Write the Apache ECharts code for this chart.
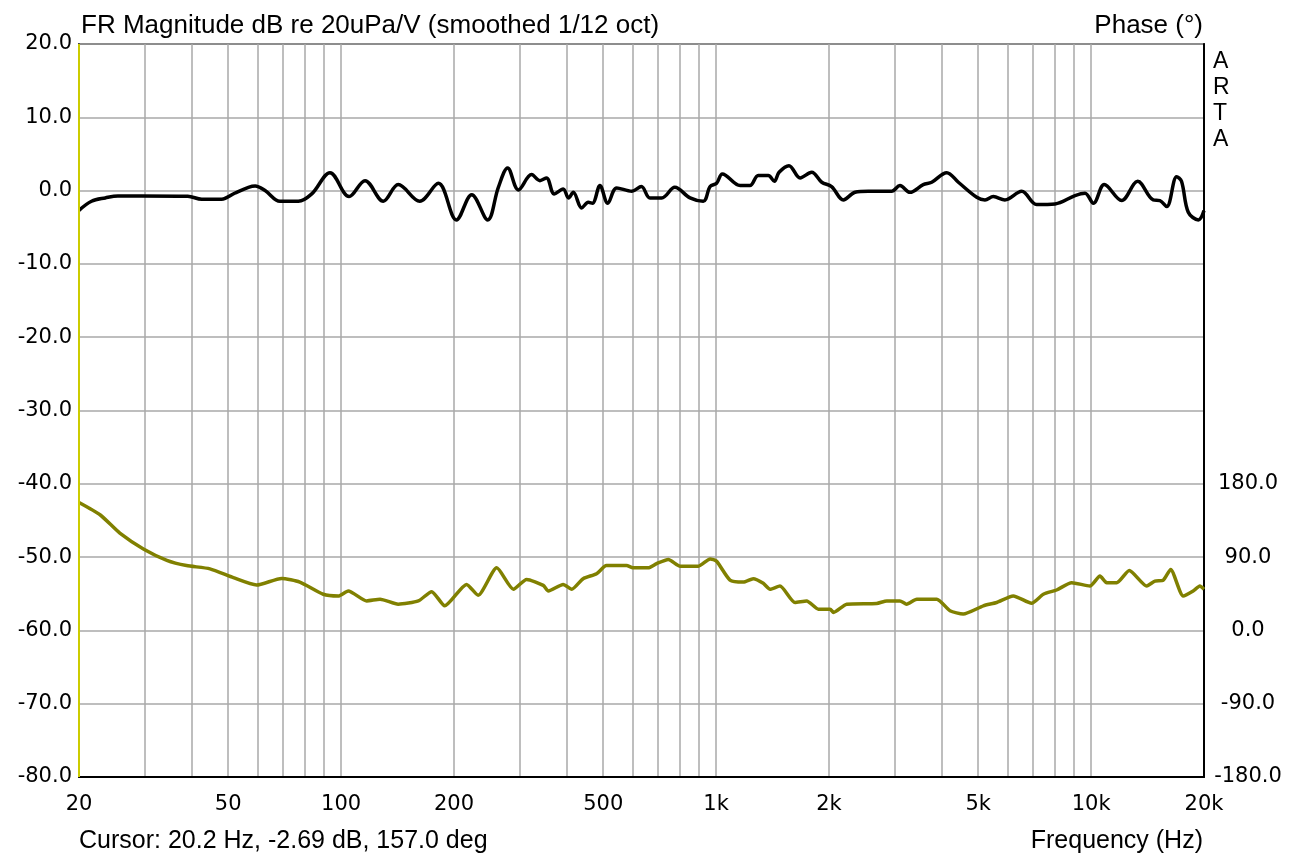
<!DOCTYPE html>
<html>
<head>
<meta charset="utf-8">
<title>FR Magnitude</title>
<script src="https://cdn.jsdelivr.net/npm/echarts@6/dist/echarts.min.js"></script>
<style>
  html, body { margin: 0; padding: 0; background: #fff; }
  #chart { width: 1293px; height: 854px; }
</style>
</head>
<body>
<div id="chart"></div>
<script>
// magnitude (dB)
var magFreq = [20, 21.6, 23.5, 25.4, 29.3, 39, 42.5, 48, 52, 56.6, 59, 62.7, 68.7, 76.9, 83.5, 93.4,
  105, 115.8, 129.6, 142, 162, 181.7, 203, 223, 246, 262.6, 278, 297, 322, 339, 353, 370, 391, 404,
  416, 438, 456, 468, 490, 514, 543, 596, 632, 666, 716, 776, 852, 924, 964, 1003, 1039, 1159, 1231,
  1295, 1378, 1430, 1472, 1564, 1675, 1798, 1913, 2032, 2184, 2346, 2546, 2938, 3092, 3288, 3567,
  3758, 4121, 4426, 4954, 5212, 5486, 5892, 6530, 7158, 8014, 9058, 9632, 10140, 10840, 12060,
  13310, 14640, 15260, 15910, 16910, 17420, 18160, 19320, 20000];
var magDb = [-2.69, -1.45, -1.0, -0.73, -0.73, -0.77, -1.18, -1.18, -0.36, 0.45, 0.64, 0, -1.45, -1.45, -0.45, 2.45,
  -0.82, 1.36, -1.45, 0.82, -1.45, 1.0, -4.0, -0.55, -4.0, 0.45, 3.1, 0.09, 2.18, 1.36, 1.73, -0.45, 0.23, -1.0,
  -0.23, -2.36, -1.6, -1.73, 0.68, -1.73, 0.36, -0.09, 0.55, -1.0, -1.0, 0.45, -1.0, -1.45, 0.55, 1.0, 2.27, 0.68, 0.68,
  2.05, 2.05, 1.27, 2.5, 3.4, 1.73, 2.5, 1.14, 0.55, -1.27, -0.23, -0.09, -0.09, 0.68, -0.23, 0.82,
  1.14, 2.45, 1.14, -0.91, -1.27, -0.82, -1.27, -0.09, -1.9, -1.82, -0.68, -0.36, -1.73, 0.82, -1.36,
  1.27, -1.27, -1.36, -2.18, 1.9, 1.27, -2.95, -4.0, -2.73];

// phase (deg)
var phFreq = [20, 22.8, 25.7, 29.7, 34.3, 38.7, 44.7, 51.6, 59.5, 69.4, 77.6, 89.6, 98.3, 104.5, 117, 127,
  142, 160.7, 174.4, 189, 216, 232, 260, 288, 312.5, 346, 357, 391, 412, 442, 480, 510, 577, 600, 659,
  694, 746, 802, 897, 964, 1003, 1089, 1182, 1256, 1336, 1393, 1480, 1623, 1744, 1874, 2014, 2056,
  2230, 2680, 2852, 3091, 3221, 3428, 3876, 4204, 4560, 5160, 5600, 6200, 6940, 7458, 8092, 8874,
  9932, 10560, 11000, 11700, 12640, 14070, 14800, 15580, 16300, 17600, 18710, 19500, 20000];
var phDeg = [157, 141.7, 119.4, 100, 86, 79.6, 75.6, 64.7, 55.7, 63.8, 59.4, 44.4, 42.3, 48.4, 36.2, 38.3,
  32.2, 36.2, 47.6, 30.2, 56.5, 43.2, 76.8, 50.5, 62.6, 55.3, 48.4, 56.5, 50.5, 63.5, 69.6, 79.6, 79.6, 76.8, 76.8,
  82, 87, 78.8, 78.8, 87.8, 84.9, 61.8, 59.4, 63.5, 57.8, 50.5, 54.5, 34.3, 36.2, 26.1, 26.1, 22.1,
  32.2, 33.1, 36.2, 36.2, 32.2, 38.3, 38.3, 24.1, 20.1, 30.2, 34.3, 42.3, 33.4, 44.4, 49.6, 58.6,
  54.5, 66.7, 58.6, 58.6, 73.6, 54.5, 60.6, 61.8, 74.8, 42.3, 48.4, 54.5, 50.5];

// grid lines and labels on the frequency axis
var gridFreqs = [20, 30, 40, 50, 60, 70, 80, 90, 100, 200, 300, 400, 500, 600, 700, 800, 900,
  1000, 2000, 3000, 4000, 5000, 6000, 7000, 8000, 9000, 10000, 20000];
var freqLabels = [20, 50, 100, 200, 500, 1000, 2000, 5000, 10000, 20000];

var labelFont = 'DejaVu Sans';
var headFont = 'Liberation Sans';

function pairs(xs, ys) {
  var out = [];
  for (var i = 0; i < xs.length; i++) out.push([xs[i], ys[i]]);
  return out;
}

var chart = echarts.init(document.getElementById('chart'));
var option = {
  backgroundColor: '#fff',
  animation: false,
  title: [
    { text: 'FR Magnitude dB re 20uPa/V (smoothed 1/12 oct)', left: 81, top: 13, padding: 0,
      textStyle: { fontFamily: headFont, fontSize: 26, fontWeight: 'normal', color: '#000' } },
    { text: 'Phase (°)', right: 90, top: 13, padding: 0,
      textStyle: { fontFamily: headFont, fontSize: 26, fontWeight: 'normal', color: '#000' } },
    { text: 'Cursor: 20.2 Hz, -2.69 dB, 157.0 deg', left: 79, top: 829, padding: 0,
      textStyle: { fontFamily: headFont, fontSize: 25, fontWeight: 'normal', color: '#000' } },
    { text: 'Frequency (Hz)', right: 90, top: 829, padding: 0,
      textStyle: { fontFamily: headFont, fontSize: 25, fontWeight: 'normal', color: '#000' } }
  ],
  graphic: [
    { type: 'text', left: 1213, top: 49,
      style: { text: 'A\nR\nT\nA', font: '23px "Liberation Sans"', lineHeight: 26, fill: '#000', align: 'center' } }
  ],
  grid: { left: 79, right: 89, top: 44, bottom: 77, show: true, borderColor: '#000', borderWidth: 1.5 },
  xAxis: {
    type: 'log', logBase: 10, min: 20, max: 20000,
    axisLine: { show: true, onZero: false, lineStyle: { color: '#000', width: 2 } },
    axisTick: { show: false, customValues: gridFreqs },
    splitLine: { show: true, lineStyle: { color: '#a8a8a8', width: 1.5 } },
    axisLabel: {
      customValues: freqLabels, margin: 17,
      fontFamily: labelFont, fontSize: 21, color: '#000',
      formatter: function (v) { return v >= 1000 ? (v / 1000) + 'k' : String(v); }
    }
  },
  yAxis: [
    {
      type: 'value', min: -80, max: 20, interval: 10,
      axisLine: { show: true, lineStyle: { color: '#000', width: 1.5 } },
      axisTick: { show: false },
      splitLine: { show: true, lineStyle: { color: '#a8a8a8', width: 1.5 } },
      axisLabel: { margin: 7, fontFamily: labelFont, fontSize: 21, color: '#000',
        formatter: function (v) { return v.toFixed(1); } }
    },
    {
      type: 'value', min: -180, max: 720, interval: 90, position: 'right',
      axisLine: { show: true, lineStyle: { color: '#000', width: 2 } },
      axisTick: { show: false },
      splitLine: { show: false },
      axisLabel: { margin: 44, align: 'center', fontFamily: labelFont, fontSize: 21, color: '#000',
        formatter: function (v) { return v <= 180 ? v.toFixed(1) : ''; } }
    }
  ],
  series: [
    {
      name: 'Phase', type: 'line', yAxisIndex: 1, data: pairs(phFreq, phDeg),
      showSymbol: false, smooth: 0.2,
      lineStyle: { color: '#808000', width: 3.5 },
      markLine: {
        silent: true, symbol: 'none', label: { show: false },
        lineStyle: { color: '#cccc00', width: 2, type: 'solid' },
        data: [{ xAxis: 20 }]
      }
    },
    {
      name: 'Magnitude', type: 'line', yAxisIndex: 0, data: pairs(magFreq, magDb),
      showSymbol: false, smooth: 0.35,
      lineStyle: { color: '#000', width: 3.5 }
    }
  ]
};
chart.setOption(option);
</script>
</body>
</html>
